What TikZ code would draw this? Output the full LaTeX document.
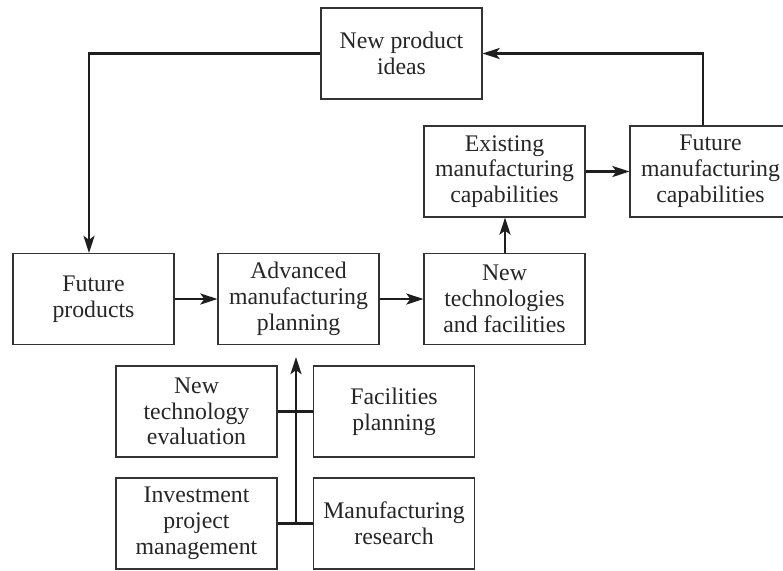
\documentclass[tikz,border=0pt]{standalone}
\usepackage{fontspec}
\setmainfont{Liberation Serif}
\usetikzlibrary{arrows.meta}
\definecolor{boxline}{HTML}{333333}
\definecolor{connline}{HTML}{1E1E1E}
\definecolor{txt}{HTML}{262626}
\tikzset{
  box/.style={draw=boxline, line width=1.2pt, minimum width=161pt, minimum height=91pt,
    inner sep=0pt, align=center, text=txt,
    font=\fontsize{23.8}{25.8}\selectfont},
  conn/.style={draw=connline, line width=2.8pt},
  arr/.style={conn, -{Stealth[length=17pt,width=11pt,inset=4pt]}}
}
\begin{document}
\begin{tikzpicture}[x=1pt,y=-1pt]
\useasboundingbox (0,0) rectangle (783,570);
\node[box] (npi) at (401.5,53.5) {New product\\ideas};
\node[box] (ex)  at (504.5,171.5) {Existing\\manufacturing\\capabilities};
\node[box] (fm)  at (710.5,171.5) {Future\\manufacturing\\capabilities};
\node[box] (fp)  at (93.5,299) {Future\\products};
\node[box] (adv) at (298.5,299) {Advanced\\manufacturing\\planning};
\node[box] (nt)  at (504.5,299) {New\\technologies\\and facilities};
\node[box] (nte) at (196.5,411.5) {New\\technology\\evaluation};
\node[box] (fac) at (394,411.5) {Facilities\\planning};
\node[box] (inv) at (196.5,523.5) {Investment\\project\\management};
\node[box] (mr)  at (394,523.5) {Manufacturing\\research};
\coordinate (c1) at (89,53.5);
\coordinate (c2) at (703,53.5);
\coordinate (c3) at (296,523.5);
\coordinate (c4) at (505,0);
\draw[arr] (npi.west) -- (c1) -- (c1 |- fp.north);
\draw[arr] (c2 |- fm.north) -- (c2) -- (npi.east);
\draw[arr] (fp.east) -- (adv.west);
\draw[arr] (adv.east) -- (nt.west);
\draw[arr] (nt.north -| c4) -- (ex.south -| c4);
\draw[arr] (ex.east) -- (fm.west);
\draw[conn] (nte.east) -- (fac.west);
\draw[conn] (inv.east) -- (mr.west);
\draw[arr, shorten >=12pt] (c3) -- (c3 |- adv.south);
\end{tikzpicture}
\end{document}
